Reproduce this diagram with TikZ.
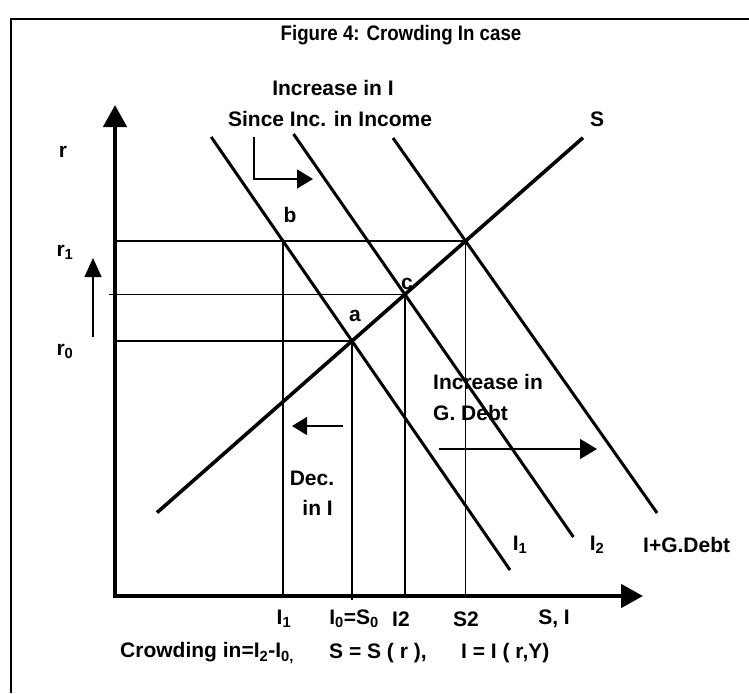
\documentclass[tikz,border=0pt]{standalone}
\usepackage{graphicx}
\usepackage{fontspec}
\setmainfont{Liberation Sans}
\usetikzlibrary{arrows.meta}
\begin{document}
\begin{tikzpicture}[x=1pt,y=-1pt,
  lbl/.style={font=\fontsize{21}{24}\selectfont\bfseries, inner sep=0pt},
  axisline/.style={line width=4.5pt, -{Triangle[length=22pt,width=23pt]}},
  curve/.style={line width=3pt},
  scurve/.style={line width=3.6pt},
  guide/.style={line width=1.3pt},
  frameline/.style={line width=2.2pt}]
\useasboundingbox (0,0) rectangle (749,693);
% frame
\coordinate (fb) at (11,693);
\coordinate (fc) at (11,19);
\coordinate (fr) at (749,19);
\draw[frameline] (fb) -- (fc) -- (fr);
\node[lbl] (title) at (401,35) {\scalebox{0.89}[1]{Figure 4: Crowding In case}};
% axes
\coordinate (O2) at (112.75,596);
\coordinate (Oy) at (115,598.25);
\coordinate (ytip) at (115,105);
\coordinate (xtip) at (643,596);
\draw[axisline] (Oy) -- (ytip);
\draw[axisline] (O2) -- (xtip);
% key points
\coordinate (A) at (352,341);
\coordinate (B) at (283,241);
\coordinate (C) at (405,294.5);
\coordinate (D) at (465.6,241);
% guides
\coordinate (r1a) at (115,241);
\coordinate (rma) at (109,294.5);
\coordinate (r0a) at (115,341);
\draw[guide] (r1a) -- (D);
\draw[guide] (rma) -- (C);
\draw[guide] (r0a) -- (A);
\coordinate (Bx) at (283,596);
\coordinate (Ax) at (352,600);
\coordinate (Cx) at (405,596);
\coordinate (Dx) at (465.6,596);
\draw[guide] (B) -- (Bx);
\draw[guide] (A) -- (Ax);
\draw[guide] (C) -- (Cx);
\draw[guide] (D) -- (Dx);
% curves
\coordinate (I1t) at (211.2,137);
\coordinate (I1b) at (510,570);
\coordinate (I2t) at (293.5,134);
\coordinate (I2b) at (573.4,537);
\coordinate (IGt) at (393,138);
\coordinate (IGb) at (657.1,513);
\coordinate (Sl) at (157,512.6);
\coordinate (Su) at (583,137.7);
\draw[curve] (I1t) -- (I1b);
\draw[curve] (I2t) -- (I2b);
\draw[curve] (IGt) -- (IGb);
\draw[scurve] (Sl) -- (Su);
% shift arrows
\coordinate (st1) at (254,137);
\coordinate (st2) at (313,179);
\draw[guide,-{Triangle[length=16pt,width=19pt]}] (st1) |- (st2);
\coordinate (up1) at (93,337);
\coordinate (up2) at (93,258);
\draw[guide,-{Triangle[length=19pt,width=17pt]}] (up1) -- (up2);
\coordinate (lf1) at (343,426);
\coordinate (lf2) at (292,426);
\draw[guide,-{Triangle[length=15pt,width=18pt]}] (lf1) -- (lf2);
\coordinate (rt1) at (439,449);
\coordinate (rt2) at (597,449);
\draw[guide,-{Triangle[length=17pt,width=20pt]}] (rt1) -- (rt2);
% labels
\node[lbl] (incI) at (333,88) {Increase in I};
\node[lbl] (since) at (330,119) {Since Inc. in Income};
\node[lbl] (Slab) at (597,119) {S};
\node[lbl] (rlab) at (63,152) {r};
\node[lbl] (r1lab) at (65,252) {r\textsubscript{1}};
\node[lbl] (r0lab) at (65,351) {r\textsubscript{0}};
\node[lbl] (blab) at (290,215) {b};
\node[lbl] (clab) at (407,284) {c};
\node[lbl] (alab) at (355,316) {a};
\node[lbl,anchor=west] (incG) at (433,382) {Increase in};
\node[lbl,anchor=west] (gdebt) at (433,413) {G. Debt};
\node[lbl] (dec) at (312,478) {Dec.};
\node[lbl,anchor=east] (inI) at (333,508) {in I};
\node[lbl] (I1lab) at (520,545) {I\textsubscript{1}};
\node[lbl] (I2lab) at (597,545) {I\textsubscript{2}};
\node[lbl,anchor=west] (IGlab) at (643,545) {I+G.Debt};
% axis labels
\node[lbl] (xI1) at (284,619) {I\textsubscript{1}};
\node[lbl] (xI0) at (354,619) {I\textsubscript{0}=S\textsubscript{0}};
\node[lbl] (xI2) at (401,619) {I2};
\node[lbl] (xS2) at (466,619) {S2};
\node[lbl] (xSI) at (554,619) {S, I};
% caption
\node[lbl,anchor=west] (cap1) at (120,653) {Crowding in=I\textsubscript{2}-I\textsubscript{0,}};
\node[lbl,anchor=west] (cap2) at (329,653) {S = S ( r ),};
\node[lbl,anchor=west] (cap3) at (461,653) {I = I ( r,Y)};
\end{tikzpicture}
\end{document}
